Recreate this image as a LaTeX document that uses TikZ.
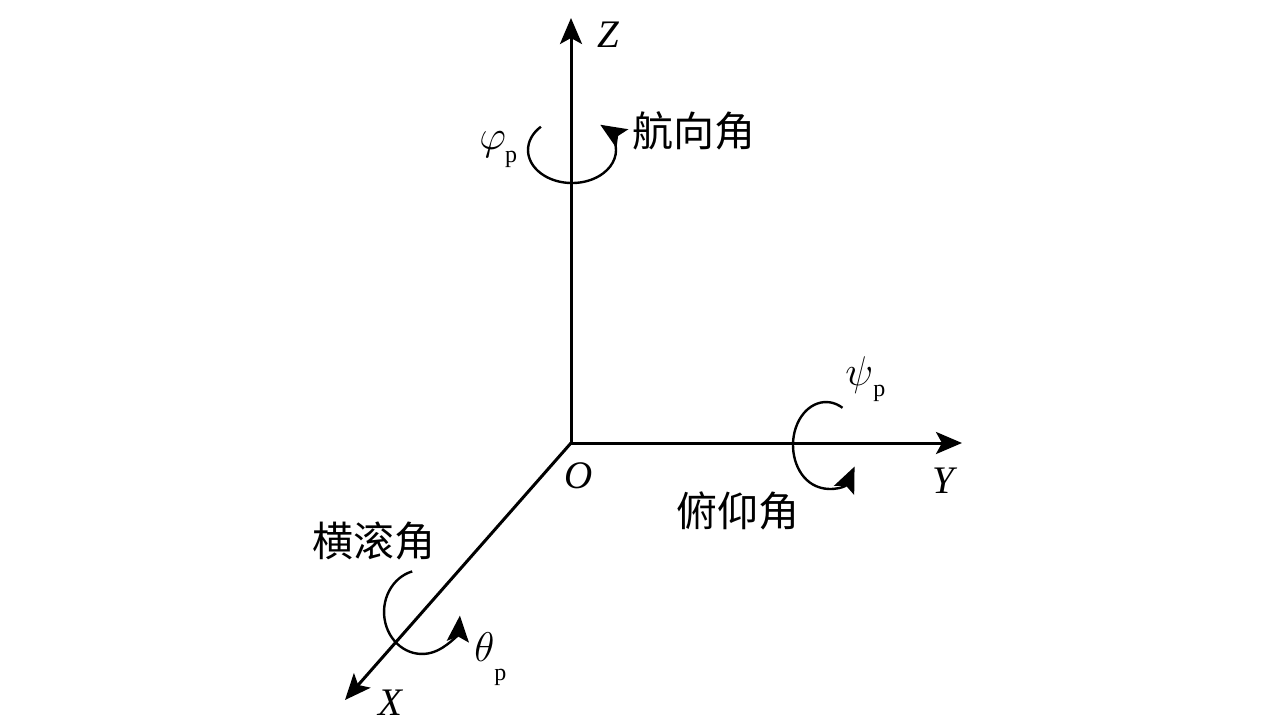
\documentclass[tikz,border=0pt]{standalone}
\usepackage{fontspec}
\setmainfont{Liberation Serif}
\newfontfamily\cjk{Noto Sans CJK SC}
\usetikzlibrary{arrows.meta}
\begin{document}
\begin{tikzpicture}[x=0.5pt,y=-0.5pt,
  axis/.style={line width=1.5pt,-{Stealth[length=13pt,width=11pt,inset=3pt]}},
  rot/.style={line width=1.2pt,-{Stealth[length=13pt,width=11pt,inset=2.5pt]}},
  axlab/.style={inner sep=0pt,font=\fontsize{19.5}{19.5}\selectfont\itshape},
  cnlab/.style={inner sep=0pt,font=\fontsize{20.5}{20.5}\selectfont\cjk},
  gklab/.style={inner sep=0pt,font=\fontsize{22}{22}\selectfont}]
\useasboundingbox (0,0) rectangle (1276,723);
\coordinate (O) at (571,443);
\coordinate (Ztip) at (571,18);
\coordinate (Ytip) at (962,443);
\coordinate (Xtip) at (345,700);
\draw[axis] (O) -- (Ztip);
\draw[axis] (O) -- (Ytip);
\draw[axis] (O) -- (Xtip);
% rotation arrows
\coordinate (zs) at (540.9,126.7);
\draw[rot] (zs) arc[start angle=225,end angle=-50,x radius=44,y radius=33];
\coordinate (ys) at (842.5,407.8);
\draw[rot] (ys) arc[start angle=-60,end angle=-330,x radius=33,y radius=43];
\coordinate (xs) at (412.2,571.4);
\draw[rot] (xs) arc[start angle=-105,end angle=-355,x radius=38,y radius=42];
% labels
\node[axlab] (lz) at (608,35) {Z};
\node[axlab] (ly) at (943,481) {Y};
\node[axlab] (lo) at (579,476) {O};
\node[axlab] (lx) at (390,703) {X};
\node[cnlab] (hx) at (694,131) {航向角};
\node[cnlab] (fy) at (738,511) {俯仰角};
\node[cnlab] (hg) at (374,541) {横滚角};
\node[gklab,anchor=base west] (phi) at (479,149) {$\varphi$\kern-0.5pt\raisebox{-0.3em}{\fontsize{12}{12}\selectfont p}};
\node[gklab,anchor=base west] (psi) at (845,385) {$\psi$\kern0pt\raisebox{-0.25em}{\fontsize{12}{12}\selectfont p}};
\node[gklab,anchor=base west] (tht) at (474,661) {$\theta$\kern0pt\raisebox{-0.45em}{\fontsize{12}{12}\selectfont p}};
\end{tikzpicture}
\end{document}
